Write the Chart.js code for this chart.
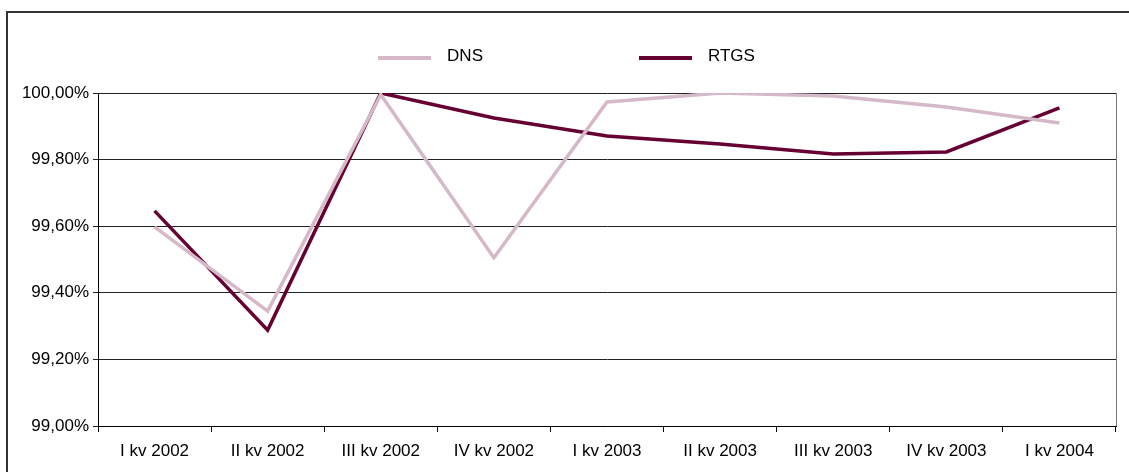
<!DOCTYPE html>
<html>
<head>
<meta charset="utf-8">
<script src="https://cdn.jsdelivr.net/npm/chart.js@4/dist/chart.umd.min.js"></script>
<style>
  body { margin: 0; background: #fff; }
  #wrap { position: relative; width: 1129px; height: 472px; }
  #legend {
    position: absolute; left: 2px; top: 44px; width: 1129px; height: 24px;
    display: flex; justify-content: center; align-items: center;
    font-family: "Liberation Sans", Arial, sans-serif; font-size: 17px; color: #000;
  }
  .item { display: flex; align-items: center; }
  .item + .item { margin-left: 156px; }
  .swatch { width: 53px; height: 4px; margin-right: 16px; margin-top: 4px; }
</style>
</head>
<body>
<div id="wrap">
  <canvas id="myChart" width="1129" height="472"></canvas>
  <div id="legend"></div>
</div>
<script>
// kvartaly
var labels = ['I kv 2002', 'II kv 2002', 'III kv 2002', 'IV kv 2002', 'I kv 2003', 'II kv 2003', 'III kv 2003', 'IV kv 2003', 'I kv 2004'];
// hodnoty v %
var dnsValues  = [99.598, 99.345, 99.995, 99.505, 99.973, 100.0, 99.991, 99.958, 99.910];
var rtgsValues = [99.646, 99.288, 100.0, 99.925, 99.871, 99.847, 99.817, 99.823, 99.955];

var FONT = '"Liberation Sans", Arial, sans-serif';

// ramecek okolo grafu + prava hrana plochy
var framePlugin = {
    id: 'frame',
    beforeDraw: function(chart) {
        var ctx = chart.ctx;
        ctx.save();
        ctx.fillStyle = '#fff';
        ctx.fillRect(0, 0, chart.width, chart.height);
        ctx.strokeStyle = '#333';
        ctx.lineWidth = 2;
        ctx.beginPath();
        ctx.moveTo(7, chart.height);
        ctx.lineTo(7, 12);
        ctx.lineTo(chart.width, 12);
        ctx.stroke();
        ctx.restore();
    },
    afterDatasetsDraw: function(chart) {
        var a = chart.chartArea, ctx = chart.ctx;
        ctx.save();
        ctx.strokeStyle = '#777';
        ctx.lineWidth = 1;
        ctx.beginPath();
        ctx.moveTo(Math.round(a.right) + 0.5, a.top);
        ctx.lineTo(Math.round(a.right) + 0.5, a.bottom);
        ctx.stroke();
        ctx.restore();
    }
};

var graf = new Chart(document.getElementById('myChart'), {
    type: 'line',
    data: {
        labels: labels,
        datasets: [{
            label: 'DNS',
            data: dnsValues,
            borderColor: '#D5B9C8',
            backgroundColor: '#D5B9C8',
            borderWidth: 3.5,
            pointRadius: 0,
            fill: false,
            tension: 0
        },
        {
            label: 'RTGS',
            data: rtgsValues,
            borderColor: '#660033',
            backgroundColor: '#660033',
            borderWidth: 3.5,
            pointRadius: 0,
            fill: false,
            tension: 0
        }]
    },
    options: {
        responsive: false,
        animation: false,
        layout: { padding: { left: 18, top: 93, right: 13, bottom: 10 } },
        plugins: {
            legend: { display: false },
            tooltip: { enabled: false }
        },
        scales: {
            x: {
                offset: true,
                grid: { offset: true, drawOnChartArea: false, drawTicks: true, tickLength: 6, color: '#000' },
                border: { color: '#000', width: 1 },
                ticks: { color: '#000', font: { family: FONT, size: 17 }, padding: 9, maxRotation: 0, autoSkip: false },
                afterFit: function(scale) { scale.height = 36; }
            },
            y: {
                min: 99,
                max: 100,
                grid: { color: '#222', drawTicks: true, tickLength: 5 },
                border: { color: '#000', width: 1 },
                ticks: {
                    stepSize: 0.2,
                    color: '#000',
                    font: { family: FONT, size: 17 },
                    padding: 4,
                    callback: function(v) { return v.toFixed(2).replace('.', ',') + '%'; }
                },
                afterFit: function(scale) { scale.width = 80; }
            }
        }
    },
    plugins: [framePlugin]
});

// legenda z datasetu
var legend = document.getElementById('legend');
graf.data.datasets.forEach(function(ds) {
    var item = document.createElement('div');
    item.className = 'item';
    var sw = document.createElement('span');
    sw.className = 'swatch';
    sw.style.background = ds.borderColor;
    var txt = document.createElement('span');
    txt.textContent = ds.label;
    item.appendChild(sw);
    item.appendChild(txt);
    legend.appendChild(item);
});
</script>
</body>
</html>
